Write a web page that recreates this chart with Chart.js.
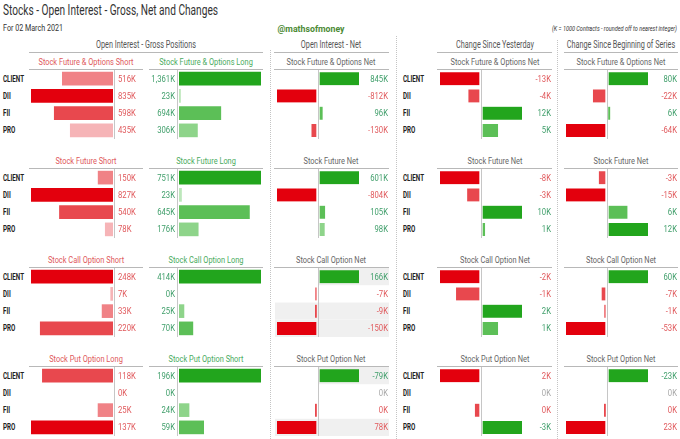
<!DOCTYPE html>
<html>
<head>
<meta charset="utf-8">
<script src="https://cdn.jsdelivr.net/npm/chart.js@4.4.1/dist/chart.umd.min.js"></script>
<style>
body { margin: 0; background: #fff; }
#wrap { position: relative; width: 680px; height: 439px; overflow: hidden;
        font-family: Roboto, "DejaVu Sans Condensed", sans-serif; color: #333; }
.t { position: absolute; white-space: nowrap; line-height: 1; }
.title { font-size: 14px; color: #333; }
.date { font-size: 9.5px; color: #333; }
.brand { font-size: 9.5px; color: #4c8a34; font-weight: bold; }
.note { font-size: 7px; color: #333; font-style: italic; }
.head { font-size: 10px; color: #555; }
.sub { font-size: 9.5px; color: #666; }
.sub.red { color: #e0595c; }
.sub.green { color: #4aab5e; }
.row { font-size: 9.5px; color: #222; font-weight: bold; }
.hl { position: absolute; height: 1px; background: #b8b8b8; }
.vd { position: absolute; width: 0; border-left: 1px dotted #c4c4c4; }
canvas { position: absolute; }
</style>
</head>
<body>
<div id="wrap"></div>
<script>
// rows and panel titles
const rows = ['CLIENT', 'DII', 'FII', 'PRO'];
const shortTitles = ['Stock Future & Options Short', 'Stock Future Short', 'Stock Call Option Short', 'Stock Put Option Long'];
const longTitles = ['Stock Future & Options Long', 'Stock Future Long', 'Stock Call Option Long', 'Stock Put Option Short'];
const netTitles = ['Stock Future & Options Net', 'Stock Future Net', 'Stock Call Option Net', 'Stock Put Option Net'];

// values in K contracts, one list per section (CLIENT, DII, FII, PRO)
const grossShort = [[516, 835, 598, 435], [150, 827, 540, 78], [248, 7, 33, 220], [118, 0, 25, 137]];
const grossLong = [[1361, 23, 694, 306], [751, 23, 645, 176], [414, 0, 25, 70], [196, 0, 24, 59]];
const oiNet = [[845, -812, 96, -130], [601, -804, 105, 98], [166, -7, -9, -150], [-79, 0, 0.4, 78]];
const changeYesterday = [[-13, -4, 12, 5], [-8, -2.7, 10, 1], [-2.3, -1.4, 2.4, 1], [2, 0, 0.3, -3]];
const changeBeginning = [[80, -22, 6, -64], [-3, -15, 6, 12], [60, -7, -1, -53], [-23, 0, 0.1, 23]];

// put net is long - short, so its bars point the other way
const invertSection = [false, false, false, true];

const reds = ['#e3000d', '#e8484e', '#f08286', '#f6b4b7'];
const greens = ['#22a51d', '#5cbf57', '#8ed48a', '#bde7bb'];
const redText = '#e0595c', greenText = '#3f9e6a', greyText = '#a8a8a8';
const fontFamily = 'Roboto, "DejaVu Sans Condensed", sans-serif';
const labelFont = '9.5px ' + fontFamily;

// light row banding seen in the OI net column
const oiNetShade = [[], [], ['right', '', 'full', 'full'], ['right', '', '', 'full']];

// the original uses a narrow font: squeeze each text style to the width seen there
const fitSamples = {
    title: ['Stocks - Open Interest - Gross, Net and Changes', 215, '14px'],
    date: ['For 02 March 2021', 60, '9.5px'],
    brand: ['@mathsofmoney', 67, 'bold 9.5px'],
    note: ['(K = 1000 Contracts - rounded off to nearest integer)', 125, 'italic 7px'],
    head: ['Open Interest - Gross Positions', 100, '10px'],
    sub: ['Stock Future & Options Short', 95, '9.5px'],
    row: ['CLIENT', 21, 'bold 9.5px'],
    label: ['516K', 17.8, '9.5px']
};
const measureCtx = document.createElement('canvas').getContext('2d');
const squeeze = {};
Object.keys(fitSamples).forEach(k => {
    const [txt, target, f] = fitSamples[k];
    measureCtx.font = f + ' ' + fontFamily;
    squeeze[k] = target / measureCtx.measureText(txt).width;
});

const wrap = document.getElementById('wrap');
const sectionTop = s => 70 + 99 * s;
const rowCenter = (s, i) => sectionTop(s) + 17.25 * (i + 0.5);

function addText(str, x, y, cls, align) {
    const d = document.createElement('div');
    d.className = 't ' + cls;
    d.textContent = str;
    d.style.left = x + 'px';
    d.style.top = y + 'px';
    const tx = align === 'center' ? '-50%' : align === 'right' ? '-100%' : '0';
    d.style.transformOrigin = align === 'center' ? 'center' : align;
    d.style.transform = 'translate(' + tx + ',-50%) scaleX(' + squeeze[cls.split(' ')[0]] + ')';
    wrap.appendChild(d);
}

function addLine(x1, x2, y) {
    const d = document.createElement('div');
    d.className = 'hl';
    d.style.left = x1 + 'px';
    d.style.width = (x2 - x1) + 'px';
    d.style.top = y + 'px';
    wrap.appendChild(d);
}

function addDots(x, y1, y2) {
    const d = document.createElement('div');
    d.className = 'vd';
    d.style.left = x + 'px';
    d.style.top = y1 + 'px';
    d.style.height = (y2 - y1) + 'px';
    wrap.appendChild(d);
}

function addCanvas(x, y, w, h) {
    const c = document.createElement('canvas');
    c.width = w;
    c.height = h;
    c.style.left = x + 'px';
    c.style.top = y + 'px';
    c.style.width = w + 'px';
    c.style.height = h + 'px';
    wrap.appendChild(c);
    return c;
}

function fmt(v) {
    return Math.round(v).toLocaleString('en-US') + 'K';
}

function drawLabel(ctx, txt, x, y, align, color) {
    ctx.save();
    ctx.translate(x, y);
    ctx.scale(squeeze.label, 1);
    ctx.font = labelFont;
    ctx.fillStyle = color;
    ctx.textAlign = align;
    ctx.textBaseline = 'middle';
    ctx.fillText(txt, 0, 0.5);
    ctx.restore();
}

function axisLine(ctx, x, h) {
    ctx.save();
    ctx.strokeStyle = '#c6c6c6';
    ctx.lineWidth = 1;
    ctx.beginPath();
    ctx.moveTo(Math.round(x) + 0.5, 0);
    ctx.lineTo(Math.round(x) + 0.5, h);
    ctx.stroke();
    ctx.restore();
}

// colour by rank of size: biggest bar darkest
function rankColors(vals, palette) {
    const order = vals.map((v, i) => i).sort((a, b) => Math.abs(vals[b]) - Math.abs(vals[a]));
    const out = [];
    order.forEach((idx, r) => { out[idx] = palette[r]; });
    return out;
}

function netColors(plot) {
    const out = [];
    const pos = plot.map((v, i) => i).filter(i => plot[i] > 0).sort((a, b) => plot[b] - plot[a]);
    const neg = plot.map((v, i) => i).filter(i => plot[i] < 0).sort((a, b) => plot[a] - plot[b]);
    pos.forEach((idx, r) => { out[idx] = greens[r]; });
    neg.forEach((idx, r) => { out[idx] = reds[r]; });
    return out;
}

const baseOptions = (pad) => ({
    indexAxis: 'y',
    responsive: false,
    animation: false,
    events: [],
    layout: { padding: pad },
    plugins: { legend: { display: false }, tooltip: { enabled: false } }
});

function grossChart(s, side) {
    const vals = side === 'short' ? grossShort[s] : grossLong[s];
    const g = side === 'short' ? { x: 29, w: 115, l: 2, r: 31 } : { x: 149, w: 115, l: 30, r: 3 };
    const canvas = addCanvas(g.x, sectionTop(s), g.w, 69);
    const opts = baseOptions({ left: g.l, right: g.r, top: 0, bottom: 0 });
    opts.scales = {
        x: { display: false, min: 0, max: Math.max(...vals), reverse: side === 'short' },
        y: { display: false }
    };
    new Chart(canvas, {
        type: 'bar',
        data: {
            labels: rows,
            datasets: [{
                data: vals.map(v => v === 0 ? null : v),
                backgroundColor: rankColors(vals, side === 'short' ? reds : greens),
                barThickness: 13,
                minBarLength: 1.5
            }]
        },
        options: opts,
        plugins: [{
            id: 'grossDecor',
            afterDatasetsDraw(chart) {
                const ctx = chart.ctx, a = chart.chartArea, y = chart.scales.y;
                if (side === 'short') {
                    axisLine(ctx, a.right + 1, chart.height);
                    vals.forEach((v, i) => drawLabel(ctx, fmt(v), a.right + 5, y.getPixelForValue(i), 'left', redText));
                } else {
                    axisLine(ctx, a.left - 2, chart.height);
                    vals.forEach((v, i) => drawLabel(ctx, fmt(v), a.left - 4, y.getPixelForValue(i), 'right', greenText));
                }
            }
        }]
    });
}

function netChart(s, x, vals, shade) {
    const plot = vals.map(v => invertSection[s] ? -v : v);
    const maxNeg = Math.max(...plot.map(v => v < 0 ? -v : 0)) || 1;
    const maxPos = Math.max(...plot.map(v => v > 0 ? v : 0)) || 1;
    const colors = netColors(plot);
    const canvas = addCanvas(x, sectionTop(s), 116, 69);
    const opts = baseOptions({ left: 3, right: 31, top: 0, bottom: 0 });
    opts.scales = {
        xn: { axis: 'x', display: false, min: -maxNeg, max: maxNeg },
        xp: { axis: 'x', display: false, min: -maxPos, max: maxPos },
        y: { display: false }
    };
    // a transparent border on the zero side leaves a small gap next to the axis line
    const barStyle = {
        grouped: false, backgroundColor: colors, barThickness: 13, minBarLength: 3,
        borderColor: 'rgba(0,0,0,0)', borderSkipped: false
    };
    new Chart(canvas, {
        type: 'bar',
        data: {
            labels: rows,
            datasets: [
                Object.assign({ data: plot.map(v => v < 0 ? v : null), xAxisID: 'xn',
                    borderWidth: { top: 0, bottom: 0, left: 0, right: 2 } }, barStyle),
                Object.assign({ data: plot.map(v => v > 0 ? v : null), xAxisID: 'xp',
                    borderWidth: { top: 0, bottom: 0, left: 2, right: 0 } }, barStyle)
            ]
        },
        options: opts,
        plugins: [{
            id: 'netDecor',
            beforeDatasetsDraw(chart) {
                if (!shade) return;
                const ctx = chart.ctx, a = chart.chartArea, y = chart.scales.y;
                const mid = (a.left + a.right) / 2;
                ctx.save();
                ctx.fillStyle = '#f0f0f0';
                shade.forEach((k, i) => {
                    if (!k) return;
                    const cy = y.getPixelForValue(i);
                    const x0 = k === 'full' ? 1 : mid;
                    ctx.fillRect(x0, cy - 8.6, chart.width - 1 - x0, 17.2);
                });
                ctx.restore();
            },
            afterDatasetsDraw(chart) {
                const ctx = chart.ctx, a = chart.chartArea, y = chart.scales.y;
                axisLine(ctx, (a.left + a.right) / 2, chart.height);
                vals.forEach((v, i) => {
                    const p = plot[i];
                    const c = p > 0 ? greenText : p < 0 ? redText : greyText;
                    drawLabel(ctx, fmt(v), chart.width - 2, y.getPixelForValue(i), 'right', c);
                });
            }
        }]
    });
}

// page headings
addText('Stocks - Open Interest - Gross, Net and Changes', 3, 9.5, 'title', 'left');
addText('For 02 March 2021', 3, 27.5, 'date', 'left');
addText('@mathsofmoney', 311, 29, 'brand', 'center');
addText('(K = 1000 Contracts - rounded off to nearest integer)', 677, 29, 'note', 'right');

addText('Open Interest - Gross Positions', 146, 45, 'head', 'center');
addText('Open Interest - Net', 331, 45, 'head', 'center');
addText('Change Since Yesterday', 494.5, 45, 'head', 'center');
addText('Change Since Beginning of Series', 621, 45, 'head', 'center');
addLine(29, 263, 52);
addLine(274, 389, 52);
addLine(437, 552, 52);
addLine(564, 678, 52);

addDots(270, 50, 439);
addDots(396, 36, 439);
addDots(557, 40, 439);

for (let s = 0; s < 4; s++) {
    const hy = 62 + 99 * s, ly = 69 + 99 * s;
    addText(shortTitles[s], 86, hy, 'sub red', 'center');
    addText(longTitles[s], 206, hy, 'sub green', 'center');
    addText(netTitles[s], 331, hy, 'sub', 'center');
    addText(netTitles[s], 494.5, hy, 'sub', 'center');
    addText(netTitles[s], 621, hy, 'sub', 'center');
    addLine(29, 143, ly);
    addLine(149, 263, ly);
    addLine(274, 389, ly);
    addLine(437, 552, ly);
    addLine(564, 678, ly);

    rows.forEach((r, i) => {
        addText(r, 3, rowCenter(s, i), 'row', 'left');
        addText(r, 403, rowCenter(s, i), 'row', 'left');
    });

    grossChart(s, 'short');
    grossChart(s, 'long');
    netChart(s, 274, oiNet[s], oiNetShade[s]);
    netChart(s, 437, changeYesterday[s], null);
    netChart(s, 563, changeBeginning[s], null);
}
</script>
</body>
</html>
